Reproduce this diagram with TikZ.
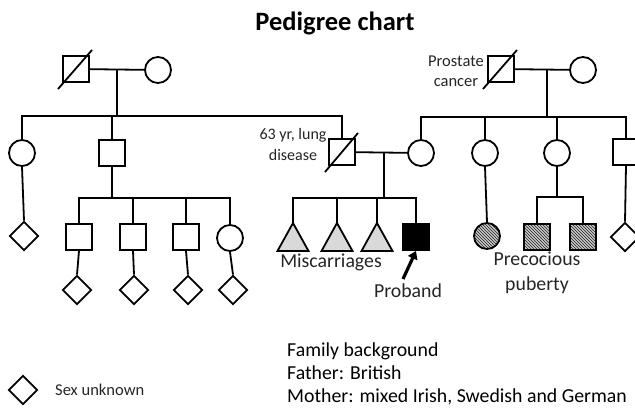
\documentclass[tikz,border=0pt]{standalone}
\usepackage{fontspec}
\setmainfont{Carlito}
\usetikzlibrary{shapes.geometric,patterns,arrows.meta,calc}
\begin{document}
\begin{tikzpicture}[x=1pt,y=-1pt,
  lw/.style={line width=1.8pt},
  male/.style={draw,lw,rectangle,minimum size=26pt,inner sep=0pt},
  female/.style={draw,lw,circle,minimum size=26pt,inner sep=0pt},
  unk/.style={draw,lw,diamond,minimum size=29pt,inner sep=0pt},
  hatch/.style={preaction={fill=gray!45},pattern=north west lines,pattern color=black!85},
  lbl/.style={font=\fontsize{19.8}{23}\selectfont,inner sep=0pt,text=black!85},
  slbl/.style={font=\fontsize{16.5}{20}\selectfont,inner sep=0pt,align=center,text=black!85},
  tri/.style={lw,fill=gray!30},
]
\useasboundingbox[fill=white] (0,0) rectangle (635,408);

% title
\node[font=\fontsize{26.5}{30}\selectfont\bfseries,inner sep=0pt] (title) at (335,23) {Pedigree chart};

% generation 1
\node[male] (gf1) at (76,69) {};
\node[female] (gm1) at (158,70) {};
\node[male] (gf2) at (501,69) {};
\node[female] (gm2) at (583,70) {};
\draw[lw] ([shift={(-18,20)}]gf1.center) -- ([shift={(16,-19)}]gf1.center);
\draw[lw] ([shift={(-18,20)}]gf2.center) -- ([shift={(16,-19)}]gf2.center);
\node[slbl] (prost) at (456,71) {Prostate\\cancer};

\coordinate (m1) at (117,70);
\coordinate (m2) at (547,70);
\draw[lw] (gf1) -- (gm1);
\draw[lw] (gf2) -- (gm2);

% generation 2
\node[female] (a1) at (22,153) {};
\node[male] (a2) at (112,153) {};
\node[male] (fa) at (342,152) {};
\draw[lw] ([shift={(-17,20)}]fa.center) -- ([shift={(16,-19)}]fa.center);
\node[slbl,font=\fontsize{16}{21}\selectfont] (lung) at (293,144) {63 yr, lung\\disease};
\node[female] (mo) at (421,153) {};
\node[female] (b1) at (485,153) {};
\node[female] (b2) at (557,153) {};
\node[male] (b3) at (626,152) {};

\coordinate (s1l) at (22,116);
\coordinate (s1r) at (342,116);
\coordinate (s2l) at (421,117);
\coordinate (s2r) at (626,117);
\draw[lw] (m1) -- (m1 |- s1l);
\draw[lw] (a1.north) -- (s1l) -- (s1r) -- (fa.north);
\draw[lw] (a2.north) -- (a2.north |- s1l);
\draw[lw] (m2) -- (m2 |- s2l);
\draw[lw] (mo.north) -- (s2l) -- (s2r) -- (b3.north);
\draw[lw] (b1.north) -- (b1.north |- s2l);
\draw[lw] (b2.north) -- (b2.north |- s2l);

\coordinate (m3) at (384,152);
\draw[lw] (fa) -- (mo);

% generation 3 left
\node[unk] (e1) at (24,236) {};
\draw[lw] (a1.south) -- (e1.north);
\node[male] (c1) at (79,237) {};
\node[male] (c2) at (133,237) {};
\node[male] (c3) at (186,237) {};
\node[female] (c4) at (230,238) {};
\coordinate (s3l) at (79,198);
\coordinate (s3r) at (230,198);
\draw[lw] (a2.south) -- (a2.south |- s3l);
\draw[lw] (c1.north) -- (s3l) -- (s3r) -- (c4.north);
\draw[lw] (c2.north) -- (c2.north |- s3l);
\draw[lw] (c3.north) -- (c3.north |- s3l);

% generation 4
\node[unk] (d1) at (77,290) {};
\node[unk] (d2) at (134,290) {};
\node[unk] (d3) at (188,290) {};
\node[unk] (d4) at (233,290) {};
\draw[lw] (c1.south) -- (d1.north);
\draw[lw] (c2.south) -- (d2.north);
\draw[lw] (c3.south) -- (d3.north);
\draw[lw] (c4.south) -- (d4.north);

% generation 3 middle
\coordinate (t1) at (293,223);
\coordinate (t2) at (337,223);
\coordinate (t3) at (377,223);
\draw[tri] (t1) -- ++(-15.5,28) -- ++(31,0) -- cycle;
\draw[tri] (t2) -- ++(-15.5,28) -- ++(31,0) -- cycle;
\draw[tri] (t3) -- ++(-15.5,28) -- ++(31,0) -- cycle;
\node[male,fill=black] (pb) at (416,237) {};
\coordinate (s4l) at (293,198);
\coordinate (s4r) at (416,198);
\draw[lw] (m3) -- (m3 |- s4l);
\draw[lw] (t1) -- (s4l) -- (s4r) -- (pb.north);
\draw[lw] (t2) -- (t2 |- s4l);
\draw[lw] (t3) -- (t3 |- s4l);
\node[lbl] (misc) at (331,262) {Miscarriages};
\node[lbl] (prob) at (408,291) {Proband};
\coordinate (arrs) at (403,279);
\draw[line width=3.2pt,-{Triangle[width=10pt,length=8pt]}] (arrs) -- (pb.south);

% generation 3 right
\node[female,hatch] (h1) at (487,236) {};
\node[male,hatch] (h2) at (537,237) {};
\node[male,hatch] (h3) at (583,237) {};
\node[unk] (e2) at (625,237) {};
\draw[lw] (b1.south) -- (h1.north);
\coordinate (s5l) at (537,197);
\coordinate (s5r) at (583,197);
\draw[lw] (b2.south) -- (b2.south |- s5l);
\draw[lw] (h2.north) -- (s5l) -- (s5r) -- (h3.north);
\draw[lw] (b3.south) -- (e2.north);
\node[lbl,align=center,font=\fontsize{19.8}{25}\selectfont] (prec) at (537,273) {Precocious\\puberty};

% legend
\node[unk] (leg) at (23,390) {};
\node[inner sep=0pt,anchor=west,font=\fontsize{16.5}{20}\selectfont,text=black!85] (legt) at (55,390) {Sex unknown};

% family background
\node[anchor=north west,align=left,inner sep=0pt,font=\fontsize{19.8}{23}\selectfont] (fam) at (287,343) {Family background\\Father: British\\Mother: mixed Irish, Swedish and German};
\end{tikzpicture}
\end{document}
